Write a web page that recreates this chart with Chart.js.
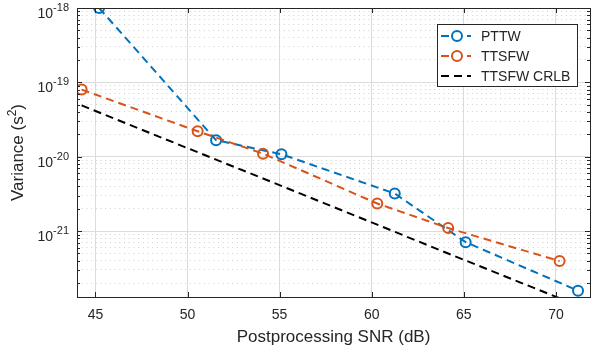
<!DOCTYPE html>
<html>
<head>
<meta charset="utf-8">
<script src="https://cdn.jsdelivr.net/npm/chart.js@4"></script>
<style>
  html, body { margin: 0; padding: 0; background: #fff; }
</style>
</head>
<body>
<canvas id="chart" width="597" height="353"></canvas>
<script>
// data
const snrPTTW = [45.2, 51.55, 55.1, 61.25, 65.1, 71.2];
const varPTTW = [1.0e-18, 1.67e-20, 1.08e-20, 3.2e-21, 7.1e-22, 1.58e-22];

const snrTTSFW = [44.25, 50.55, 54.1, 60.3, 64.15, 70.2];
const varTTSFW = [8.0e-20, 2.2e-20, 1.1e-20, 2.35e-21, 1.1e-21, 3.95e-22];
const varCRLB = [4.9e-20, 1.15e-20, 5.1e-21, 1.22e-21, 5.0e-22, 1.25e-22];

const seriesLabels = ['PTTW', 'TTSFW', 'TTSFW CRLB'];
const xTitle = 'Postprocessing SNR (dB)';
const yTitleBase = 'Variance (s';
const yTitleSup = '2';
const xRange = [44, 71.85];
const yRange = [1.3e-22, 1e-18];
const xTicks = [45, 50, 55, 60, 65, 70];
const yDecades = [-22, -21, -20, -19, -18];

const BLUE = '#0072BD';
const ORANGE = '#D95319';
const AXIS_COLOR = '#262626';
const FONT = '"Liberation Sans", Arial, Helvetica, sans-serif';

Chart.defaults.font.family = FONT;
Chart.defaults.color = AXIS_COLOR;

const toPoints = (xs, ys) => xs.map((x, i) => ({ x: x, y: ys[i] }));
const isDecade = (v) => Math.abs(Math.log10(v) - Math.round(Math.log10(v))) < 1e-6;

// box, inward ticks, superscript labels and legend
const matlabAxesPlugin = {
    id: 'matlabAxes',
    afterDraw(chart) {
        const { ctx, chartArea: a, scales: { x, y } } = chart;
        ctx.save();
        ctx.strokeStyle = AXIS_COLOR;
        ctx.lineWidth = 1;

        // tick marks pointing inward
        ctx.beginPath();
        x.ticks.forEach(t => {
            const px = Math.round(x.getPixelForValue(t.value)) + 0.5;
            ctx.moveTo(px, a.bottom); ctx.lineTo(px, a.bottom - 5);
            ctx.moveTo(px, a.top); ctx.lineTo(px, a.top + 5);
        });
        y.ticks.forEach(t => {
            const len = isDecade(t.value) ? 5 : 3;
            const py = Math.round(y.getPixelForValue(t.value)) + 0.5;
            ctx.moveTo(a.left, py); ctx.lineTo(a.left + len, py);
            ctx.moveTo(a.right, py); ctx.lineTo(a.right - len, py);
        });
        ctx.stroke();

        // axes box
        ctx.strokeRect(Math.round(a.left) + 0.5, Math.round(a.top) + 0.5,
            Math.round(a.right - a.left), Math.round(a.bottom - a.top));

        // y tick labels: 10 with a superscript exponent
        ctx.fillStyle = AXIS_COLOR;
        ctx.textAlign = 'right';
        ctx.textBaseline = 'alphabetic';
        const labelRight = a.left - 8;
        yDecades.forEach(d => {
            const v = Math.pow(10, d);
            if (v < yRange[0] * 0.999 || v > yRange[1] * 1.001) return;
            const py = y.getPixelForValue(v);
            const exp = String(d);
            ctx.font = '11px ' + FONT;
            ctx.fillText(exp, labelRight, py + 3);
            const w = ctx.measureText(exp).width;
            ctx.font = '14px ' + FONT;
            ctx.fillText('10', labelRight - w, py + 10);
        });

        // y axis title with superscript 2
        ctx.save();
        ctx.translate(23, (a.top + a.bottom) / 2);
        ctx.rotate(-Math.PI / 2);
        ctx.font = '17px ' + FONT;
        const wBase = ctx.measureText(yTitleBase).width;
        const wParen = ctx.measureText(')').width;
        ctx.font = '12px ' + FONT;
        const wSup = ctx.measureText(yTitleSup).width;
        const total = wBase + wSup + wParen;
        ctx.textAlign = 'left';
        ctx.font = '17px ' + FONT;
        ctx.fillText(yTitleBase, -total / 2, 0);
        ctx.font = '12px ' + FONT;
        ctx.fillText(yTitleSup, -total / 2 + wBase, -7);
        ctx.font = '17px ' + FONT;
        ctx.fillText(')', -total / 2 + wBase + wSup, 0);
        ctx.restore();

        // legend box in the upper right
        const boxL = a.right - 153, boxT = a.top + 16, boxW = 140, boxH = 62;
        ctx.fillStyle = '#fff';
        ctx.fillRect(boxL, boxT, boxW, boxH);
        ctx.strokeStyle = AXIS_COLOR;
        ctx.lineWidth = 1;
        ctx.strokeRect(Math.round(boxL) + 0.5, Math.round(boxT) + 0.5, boxW, boxH);
        chart.data.datasets.forEach((ds, i) => {
            const cy = boxT + 12 + i * 20;
            ctx.strokeStyle = ds.borderColor;
            ctx.lineWidth = ds.borderWidth;
            ctx.setLineDash(ds.borderDash);
            ctx.beginPath();
            ctx.moveTo(boxL + 4, cy); ctx.lineTo(boxL + 34, cy);
            ctx.stroke();
            ctx.setLineDash([]);
            if (ds.pointRadius > 0) {
                ctx.fillStyle = '#fff';
                ctx.beginPath();
                ctx.arc(boxL + 20, cy, ds.pointRadius, 0, Math.PI * 2);
                ctx.fill();
                ctx.stroke();
            }
            ctx.fillStyle = AXIS_COLOR;
            ctx.font = '14px ' + FONT;
            ctx.textAlign = 'left';
            ctx.textBaseline = 'middle';
            ctx.fillText(ds.label, boxL + 44, cy + 1);
        });
        ctx.restore();
    }
};

const lineStyle = (color, withMarkers) => ({
    borderColor: color,
    backgroundColor: color,
    borderWidth: 2,
    borderDash: [8, 5],
    pointRadius: withMarkers ? 5 : 0,
    pointHoverRadius: withMarkers ? 5 : 0,
    pointStyle: 'circle',
    pointBorderColor: color,
    pointBorderWidth: 2,
    pointBackgroundColor: 'rgba(0,0,0,0)',
    fill: false,
    tension: 0
});

new Chart(document.getElementById('chart'), {
    type: 'line',
    data: {
        datasets: [
            { label: seriesLabels[0], data: toPoints(snrPTTW, varPTTW), ...lineStyle(BLUE, true), order: 3 },
            { label: seriesLabels[1], data: toPoints(snrTTSFW, varTTSFW), ...lineStyle(ORANGE, true), order: 2 },
            { label: seriesLabels[2], data: toPoints(snrTTSFW, varCRLB), ...lineStyle('#000000', false), order: 1 }
        ]
    },
    options: {
        responsive: false,
        animation: false,
        layout: { padding: { left: 0, right: 2, top: 8, bottom: 0 } },
        plugins: {
            legend: { display: false },
            tooltip: { enabled: false }
        },
        scales: {
            x: {
                type: 'linear',
                min: xRange[0],
                max: xRange[1],
                afterBuildTicks: (scale) => {
                    scale.ticks = xTicks.map(v => ({ value: v }));
                },
                afterFit: (scale) => { scale.height = 56; },
                ticks: {
                    autoSkip: false,
                    maxRotation: 0,
                    padding: 10,
                    font: { size: 14 }
                },
                grid: {
                    drawTicks: false,
                    color: '#dcdcdc',
                    lineWidth: 1
                },
                border: { display: false },
                title: {
                    display: true,
                    text: xTitle,
                    font: { size: 17 },
                    padding: { top: 0, bottom: 5 }
                }
            },
            y: {
                type: 'logarithmic',
                min: yRange[0],
                max: yRange[1],
                afterBuildTicks: (scale) => {
                    const ticks = [];
                    for (let d = -23; d <= -18; d++) {
                        for (let k = 1; k <= 9; k++) {
                            const v = k * Math.pow(10, d);
                            if (v >= yRange[0] * 0.999 && v <= yRange[1] * 1.001) ticks.push({ value: v, major: k === 1 });
                        }
                    }
                    scale.ticks = ticks;
                },
                afterFit: (scale) => { scale.width = 77; },
                ticks: { display: false },
                grid: {
                    drawTicks: false,
                    color: (c) => (c.tick && isDecade(c.tick.value) ? '#dcdcdc' : '#cfcfcf'),
                    lineWidth: 1
                },
                border: {
                    display: false,
                    dash: (c) => (c.tick && !isDecade(c.tick.value) ? [1, 3.7] : [])
                },
                title: { display: false }
            }
        }
    },
    plugins: [matlabAxesPlugin]
});
</script>
</body>
</html>
